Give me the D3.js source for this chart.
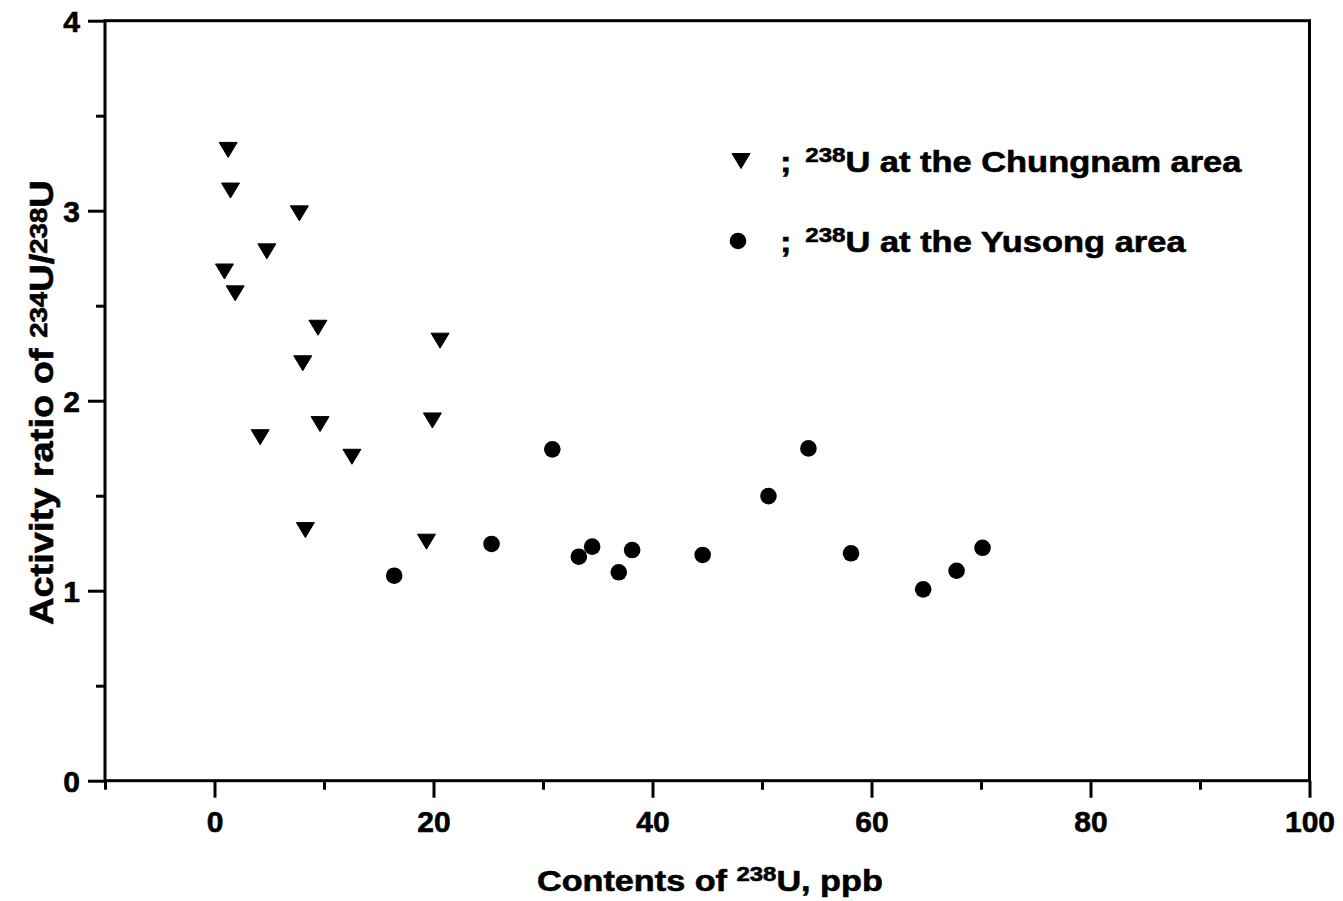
<!DOCTYPE html>
<html>
<head>
<meta charset="utf-8">
<script src="https://cdn.jsdelivr.net/npm/d3@7"></script>
<style>
  html, body { margin: 0; padding: 0; background: #fff; }
  svg { display: block; }
  text { font-family: "Liberation Sans", Arial, sans-serif; font-weight: bold; fill: #000; stroke: #000; stroke-width: 0.6px; }
</style>
</head>
<body>
<svg id="chart" width="1343" height="901"></svg>
<script>
// ---- Data ----
const chungnamX = [1.25, 1.46, 7.75, 4.78, 0.91, 1.89, 9.45, 20.6, 8.06, 9.64, 19.9, 4.17, 12.55, 8.30, 19.36];
const chungnamY = [3.32, 3.106, 2.986, 2.786, 2.68, 2.565, 2.384, 2.316, 2.197, 1.877, 1.896, 1.808, 1.705, 1.319, 1.258];
const yusongX = [16.41, 25.3, 30.85, 33.27, 34.49, 36.92, 38.14, 44.58, 50.59, 54.24, 58.13, 64.72, 67.77, 70.14];
const yusongY = [1.079, 1.246, 1.744, 1.179, 1.232, 1.097, 1.214, 1.188, 1.498, 1.749, 1.197, 1.007, 1.105, 1.226];
const xTicks = [0, 20, 40, 60, 80, 100];
const xMinorTicks = [-10, 10, 30, 50, 70, 90];
const yTicks = [0, 1, 2, 3, 4];
const yMinorTicks = [0.5, 1.5, 2.5, 3.5];
const legendLabels = ["at the Chungnam area", "at the Yusong area"];

// ---- Layout ----
(function () {
const svg = d3.select("#chart");
const mLeft = 105, mRight = 1309.5, mTop = 20.7, mBottom = 780.7;
const x = d3.scaleLinear().domain([-10, 100]).range([mLeft, mRight]);
const y = d3.scaleLinear().domain([0, 4]).range([mBottom, mTop]);
const fs = 30;

// frame
svg.append("rect")
  .attr("x", mLeft).attr("y", mTop)
  .attr("width", mRight - mLeft).attr("height", mBottom - mTop)
  .attr("fill", "none").attr("stroke", "#000").attr("stroke-width", 3);

// x axis
const xAxis = d3.axisBottom(x).tickValues(xTicks).tickSize(17).tickPadding(10).tickFormat(d3.format("d"));
const gx = svg.append("g").attr("transform", `translate(0,${mBottom})`).call(xAxis);
gx.select(".domain").remove();
gx.selectAll(".tick line").attr("stroke", "#000").attr("stroke-width", 3);
gx.selectAll(".tick text").style("font-size", fs + "px").attr("y", 51).attr("dy", null);
const xAxisMinor = d3.axisBottom(x).tickValues(xMinorTicks).tickSize(9).tickFormat("");
const gxm = svg.append("g").attr("transform", `translate(0,${mBottom})`).call(xAxisMinor);
gxm.select(".domain").remove();
gxm.selectAll(".tick line").attr("stroke", "#000").attr("stroke-width", 3);

// y axis
const yAxis = d3.axisLeft(y).tickValues(yTicks).tickSize(17).tickPadding(8).tickFormat(d3.format("d"));
const gy = svg.append("g").attr("transform", `translate(${mLeft},0)`).call(yAxis);
gy.select(".domain").remove();
gy.selectAll(".tick line").attr("stroke", "#000").attr("stroke-width", 3);
gy.selectAll(".tick text").style("font-size", fs + "px").attr("x", -25).attr("dy", "0.36em");
const yAxisMinor = d3.axisLeft(y).tickValues(yMinorTicks).tickSize(9).tickFormat("");
const gym = svg.append("g").attr("transform", `translate(${mLeft},0)`).call(yAxisMinor);
gym.select(".domain").remove();
gym.selectAll(".tick line").attr("stroke", "#000").attr("stroke-width", 3);

// markers
const chungnam = chungnamX.map((v, i) => [v, chungnamY[i]]);
const yusong = yusongX.map((v, i) => [v, yusongY[i]]);

function downTriangle(g, cx, cy) {
  const w = 18, h = 15;
  g.append("path")
    .attr("d", `M${cx - w / 2},${cy - h / 2}L${cx + w / 2},${cy - h / 2}L${cx},${cy + h / 2}Z`)
    .attr("fill", "#000").attr("stroke", "#000").attr("stroke-width", 1).attr("stroke-linejoin", "round");
}
const gm = svg.append("g");
chungnam.forEach(d => downTriangle(gm, x(d[0]), y(d[1])));
gm.selectAll("circle.yu").data(yusong).join("circle")
  .attr("class", "yu")
  .attr("cx", d => x(d[0])).attr("cy", d => y(d[1])).attr("r", 8.3).attr("fill", "#000");

// helper: horizontal stretch factor so a text spans a target length
function fit(textSel, target) {
  const w = textSel.node().getBBox().width;
  return target / w;
}

// legend
const lg = svg.append("g");
downTriangle(lg, 741, 161);
lg.append("circle").attr("cx", 738).attr("cy", 241).attr("r", 8.3).attr("fill", "#000");
[[172, legendLabels[0], 462], [252, legendLabels[1], 406]].forEach(([by, lab, len]) => {
  const g = lg.append("g");
  const t = g.append("text").attr("x", 0).attr("y", 0).style("font-size", fs + "px");
  t.append("tspan").text(";");
  t.append("tspan").attr("dx", 12).attr("dy", -10).style("font-size", "21px").text("238");
  t.append("tspan").attr("dy", 10).text("U " + lab);
  const s = fit(t, len);
  g.attr("transform", `translate(780,${by}) scale(${s},1)`);
});

// x title
{
  const g = svg.append("g");
  const xt = g.append("text").attr("x", 0).attr("y", 0).style("font-size", fs + "px");
  xt.append("tspan").text("Contents of ");
  xt.append("tspan").attr("dy", -10).style("font-size", "21px").text("238");
  xt.append("tspan").attr("dy", 10).text("U, ppb");
  const s = fit(xt, 346);
  g.attr("transform", `translate(537,891) scale(${s},1)`);
}

// y title
{
  const g = svg.append("g");
  const yt = g.append("text").attr("x", 0).attr("y", 0).style("font-size", "33px");
  yt.append("tspan").text("Activity ratio of ");
  yt.append("tspan").attr("dy", -6).style("font-size", "24px").text("234");
  yt.append("tspan").attr("dy", 6).text("U/");
  yt.append("tspan").attr("dy", -6).style("font-size", "24px").text("238");
  yt.append("tspan").attr("dy", 6).text("U");
  const s = fit(yt, 445);
  g.attr("transform", `translate(53,625) rotate(-90) scale(${s},1)`);
}
})();
</script>
</body>
</html>
